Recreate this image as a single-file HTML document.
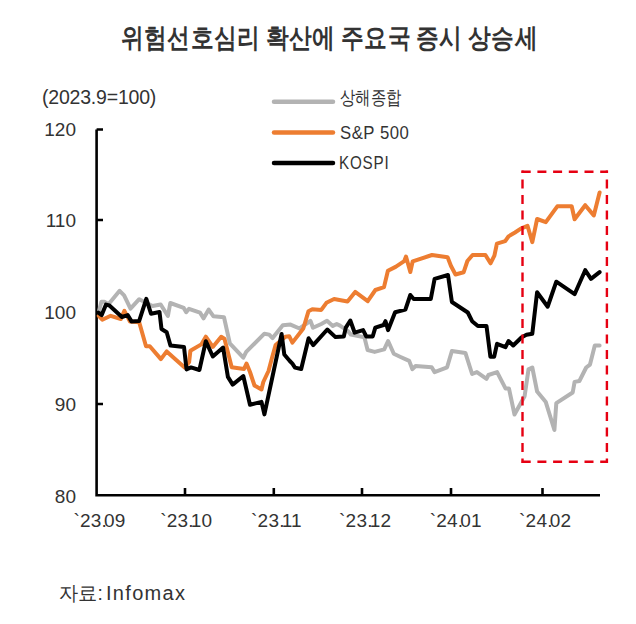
<!DOCTYPE html>
<html><head><meta charset="utf-8">
<style>
html,body{margin:0;padding:0;background:#fff;width:636px;height:624px;overflow:hidden}
.t{position:absolute;font-family:"Liberation Sans",sans-serif;white-space:nowrap;color:#333;line-height:1}
svg{position:absolute;left:0;top:0}
</style></head><body>
<div class="t" id="title" style="left:121px;top:24.5px;font-size:26.5px;font-weight:bold;color:#333;letter-spacing:0.6px;word-spacing:-1.5px;transform:scaleX(0.842);transform-origin:0 0">위험선호심리 확산에 주요국 증시 상승세</div>
<div class="t" id="unit" style="left:42px;top:87.5px;font-size:19.5px;letter-spacing:-0.2px">(2023.9=100)</div>
<div class="t" id="y120" style="right:560px;top:120.3px;font-size:19px">120</div>
<div class="t" id="y110" style="right:560px;top:211.3px;font-size:19px">110</div>
<div class="t" id="y100" style="right:560px;top:303.3px;font-size:19px">100</div>
<div class="t" id="y90" style="right:560px;top:395.3px;font-size:19px">90</div>
<div class="t" id="y80" style="right:560px;top:487.3px;font-size:19px">80</div>
<div class="t xl" style="left:73.5px;top:511px;font-size:19px;letter-spacing:0.2px">`23<span style="margin-right:-3px">.</span>09</div>
<div class="t xl" style="left:160.3px;top:511px;font-size:19px;letter-spacing:0.2px">`23<span style="margin-right:-3px">.</span>10</div>
<div class="t xl" style="left:251.1px;top:511px;font-size:19px;letter-spacing:0.2px">`23<span style="margin-right:-3px">.</span>11</div>
<div class="t xl" style="left:339.1px;top:511px;font-size:19px;letter-spacing:0.2px">`23<span style="margin-right:-3px">.</span>12</div>
<div class="t xl" style="left:429.8px;top:511px;font-size:19px;letter-spacing:0.2px">`24<span style="margin-right:-3px">.</span>01</div>
<div class="t xl" style="left:519.1px;top:511px;font-size:19px;letter-spacing:0.2px">`24<span style="margin-right:-3px">.</span>02</div>
<div class="t" id="leg1" style="left:340px;top:89px;font-size:18.5px;transform:scaleX(0.81);transform-origin:0 0">상해종합</div>
<div class="t" id="leg2" style="left:339.5px;top:123px;font-size:19px;letter-spacing:0.6px;transform:scaleX(0.88);transform-origin:0 0">S&amp;P 500</div>
<div class="t" id="leg3" style="left:339px;top:153px;font-size:19px;letter-spacing:1px;transform:scaleX(0.8);transform-origin:0 0">KOSPI</div>
<div class="t" id="src" style="left:59px;top:583px;font-size:20px;transform:scaleX(0.96);transform-origin:0 0">자료:</div>
<div class="t" id="src2" style="left:106px;top:583px;font-size:20px;letter-spacing:1.3px">Infomax</div>
<svg width="636" height="624" viewBox="0 0 636 624">
<g stroke="#000" stroke-width="2.6" fill="none">
<path d="M96.6,129.5 H103 M96.6,129.5 V495.2 H600"/>
<path d="M96.6,220 H103 M96.6,312.2 H103 M96.6,404 H103"/>
<path d="M185,495 V488"/>
<path d="M273.8,495 V488"/>
<path d="M362,495 V488"/>
<path d="M451,495 V488"/>
<path d="M542.5,495 V488"/>
</g>
<g fill="none" stroke-linejoin="round" stroke-linecap="round" stroke-width="4">
<polyline stroke="#b3b3b3" points="99.1,310.7 101.4,301.7 104.3,301.7 108.5,304.2 119.6,290.8 124.1,295.3 130.5,308.6 139.2,299.2 152.5,306.0 160.7,304.5 167.9,316.0 170.3,303.0 183.75,307.9 186.2,312.2 189,308.8 200,312.7 203.6,318.3 208.7,309.6 213.5,316.3 224,317.3 229.8,343.3 243.3,357.7 246.2,351.9 251.9,346.2 264.4,333.7 269.2,334.6 272.6,338.1 282.8,325.3 290.5,324.6 299.5,328.5 310.4,320.8 313,327.8 321.3,324.0 327,320.8 332.8,325.9 336.7,324.0 340,325.6 347.7,330.8 350.9,334.6 364.4,337.2 367.6,350.0 374.6,351.9 384.2,349.4 388.1,341.0 393.8,353.8 400,356.7 409.2,360.9 412.4,369.2 415.6,366.0 431.7,367.3 434.6,372.1 447.1,367.3 451.9,351.0 465.4,352.9 472.1,374.0 476.9,372.1 486.5,378.8 488.5,375.0 497.1,372.1 505.6,388.6 509,388.6 514.5,414.5 524.6,396.3 528.5,369.4 532.3,367.5 537.1,391.5 545.8,402.1 554.4,430.0 556.3,403.1 572.7,392.5 574.6,381.9 579.4,381.0 586.2,367.5 590,364.6 594.8,345.4 599.6,345.4"/>
<polyline stroke="#ed7d31" points="98.8,315.8 102.3,319.7 110.7,315.8 120.9,319.0 124.4,310.8 130,321.6 139.2,322.3 146,346.2 149.8,346.2 160.9,359.1 166.7,351.4 184.6,367.4 189.1,362.3 190.4,350.8 201.3,344.4 205.8,336.7 212.8,346.9 221.2,336.7 224.4,338.6 231.7,367.3 244,369.0 246.5,363.5 250,372.0 254.5,385.5 261.5,389.5 263.3,382.0 268.5,371.0 272.5,356.0 275.6,345.1 285.4,336.8 289.2,336.2 292.4,342.6 303.3,328.5 308.5,311.2 312.3,309.2 321.3,309.9 326.4,302.8 334.1,299.0 347.5,301.5 355.2,291.9 367.7,301.2 375.4,290.0 384,287.1 387.9,270.8 395.6,266.9 404.2,261.2 406,256.5 410.3,272.0 412.7,261.3 432,255.0 447.6,257.3 451,266.0 455.5,274.5 463.6,272.3 467.4,261.0 472.6,255.0 485.4,255.0 490.5,263.3 494.4,255.6 496.9,243.6 505.2,241.2 508.5,236.4 515,232.5 520.8,228.7 527.5,225.8 532.3,242.1 537.1,219.0 545.8,222.2 557.3,206.3 571.7,206.3 574.6,219.2 585.2,205.2 593.8,215.4 599.6,192.5"/>
<polyline stroke="#000" points="98.3,312.7 101.7,315.1 106,304.6 109.4,305.5 121.9,317.0 127.7,315.1 131.5,321.4 139.2,320.9 146.3,298.8 151,313.7 159.5,312.0 161.5,329.0 166.7,332.2 170.5,345.6 184,346.9 186.5,369.4 191,367.4 199.4,370.0 205.8,341.2 212.8,356.5 223.1,347.6 227.9,376.9 232.7,384.6 243.3,376.0 250,404.8 261.5,401.9 264.4,414.4 281.6,334.0 284.3,354.5 289.8,361.0 292.4,363.7 295,367.6 301.2,369.0 308.6,338.3 313.2,345.1 327.3,329.5 335.5,337.1 343.8,336.5 345.8,327.6 350.3,320.5 354.7,332.7 363.1,330.1 366.3,336.5 372.7,336.5 375.3,327.6 383.6,325.0 385.5,321.2 388.1,330.1 395.1,312.2 405.4,309.6 410.3,295.0 413.7,299.0 430.8,299.0 434.6,278.8 448,275.0 451.9,302.0 467.8,312.5 472.1,321.2 477.9,326.0 486.5,326.0 490.4,356.7 494.2,356.7 497,343.8 505.5,347.2 508.5,341.0 513.2,345.5 521.7,337.2 526.5,334.8 532.3,333.7 537.1,292.3 547.7,306.7 551.5,295.5 556.3,281.7 574.6,294.2 585.2,270.2 591,278.8 599.6,272.1"/>
</g>
<g stroke-linecap="round" stroke-width="4.5">
<path stroke="#b3b3b3" d="M274,101.7 H333"/>
<path stroke="#ed7d31" d="M274,132.5 H333"/>
<path stroke="#000" d="M274,163 H333"/>
</g>
<g fill="none" stroke="#e60012" stroke-width="2.4">
<path d="M521.7,171.8 H607.9 M521.7,461.7 H607.9" stroke-dasharray="9 6.7"/>
<path d="M522.5,170.6 V462.9 M606.9,170.6 V462.9" stroke-dasharray="8.9 6.6" stroke-dashoffset="6.5"/>
</g>
</svg>
</body></html>
